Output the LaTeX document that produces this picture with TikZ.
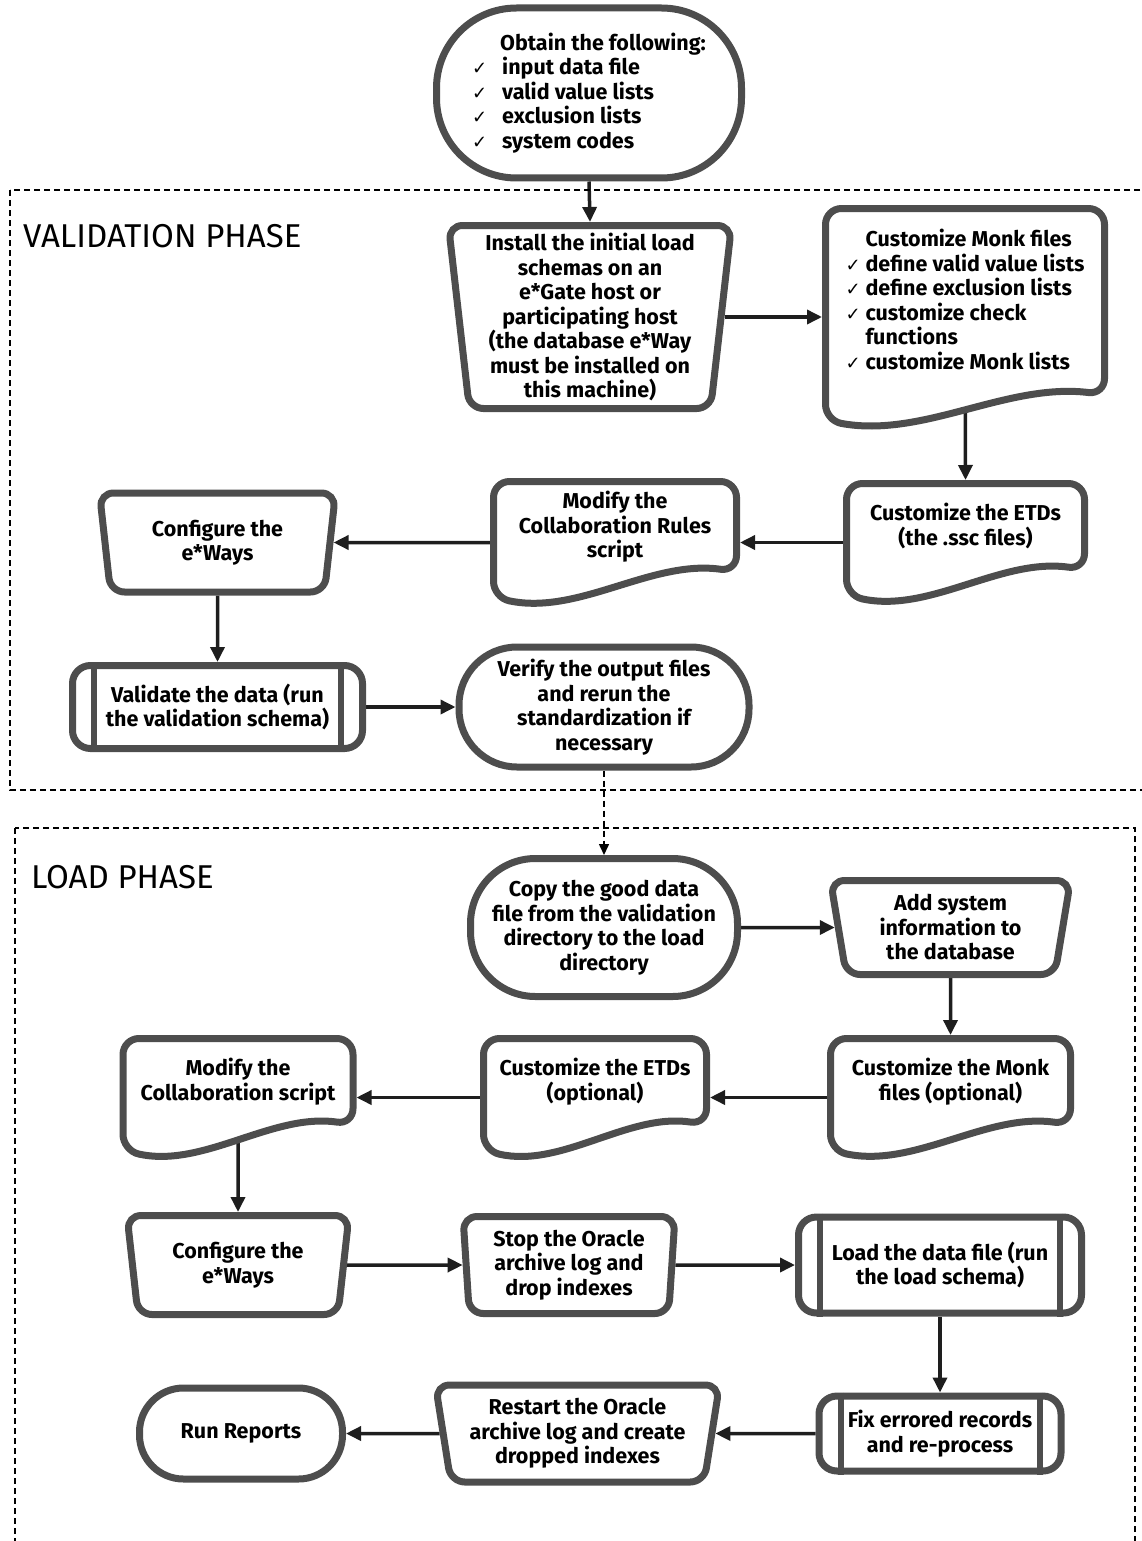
\documentclass[tikz,border=0pt]{standalone}
\usepackage{fontspec}
\setmainfont{Fira Sans}
\newfontfamily\checkfont{DejaVu Sans}
\usetikzlibrary{shapes.geometric,arrows.meta,backgrounds,calc}

\definecolor{shapegray}{HTML}{4D4D4D}
\definecolor{flowblack}{HTML}{1E1E1E}

% check mark in front of a list line
\newcommand{\chk}[1][22pt]{\makebox[#1][l]{\checkfont\mdseries\fontsize{18}{18}\selectfont ✓}}
% room for the wavy bottom of a document shape
\newcommand{\wavepad}{\rule[-36pt]{0pt}{0pt}}

\begin{document}
\begin{tikzpicture}[x=1pt,y=-1pt,
    every node/.style={font=\bfseries\fontsize{21.5}{24.5}\selectfont, align=center, inner sep=1pt},
    box/.style={draw=shapegray, fill=white, line width=7pt},
    term/.style={box, rectangle},
    manual/.style={box, trapezium, shape border rotate=180, trapezium stretches body, rounded corners=14pt},
    predef/.style={box, rectangle, rounded corners=18pt},
    doc/.style={rectangle, line width=7pt, outer sep=3.5pt},
    flow/.style={draw=flowblack, line width=3.5pt, -{Triangle[length=15pt,width=14pt]}},
    jump/.style={draw=black, line width=1.5pt, dash pattern=on 6pt off 4pt, -{Triangle[length=11pt,width=10pt]}},
    phasebox/.style={draw=black, line width=1.5pt, dash pattern=on 6pt off 4pt},
    phase/.style={font=\fontsize{33}{38}\selectfont, anchor=west}
  ]
  \useasboundingbox (0,0) rectangle (1142,1541);

  % phases
  \draw[phasebox] (10,190) rectangle (1160,790);
  \draw[phasebox] (15,828) rectangle (1135,1570);
  \node[phase] (valhead) at (22,236) {VALIDATION PHASE};
  \node[phase] (loadhead) at (30,877) {LOAD PHASE};

  % validation phase
  \node[term, rounded corners=80pt, minimum width=305pt, minimum height=170pt, align=left] (obtain) at (589,93)
    {\hspace*{28pt}Obtain the following:\\ \chk[30pt]input data file\\ \chk[30pt]valid value lists\\
     \chk[30pt]exclusion lists\\ \chk[30pt]system codes};
  \node[manual, trapezium angle=83, minimum width=283pt, minimum height=183pt] (install) at (590,317)
    {Install the initial load\\ schemas on an\\ e*Gate host or\\ participating host\\
     (the database e*Way\\ must be installed on\\ this machine)};
  \node[doc, minimum width=279pt, minimum height=218pt, align=left] (monk) at (965,317.5)
    {\hspace*{20pt}Customize Monk files\\ \chk[20pt]define valid value lists\\ \chk[20pt]define exclusion lists\\
     \chk[20pt]customize check\\ \hspace*{20pt}functions\\ \chk[20pt]customize Monk lists\wavepad};
  \node[doc, minimum width=238pt, minimum height=118pt] (etd) at (965.5,542.5)
    {Customize the ETDs\\ (the .ssc files)\wavepad};
  \node[doc, minimum width=243pt, minimum height=122pt] (rules) at (615,542.5)
    {Modify the\\ Collaboration Rules\\ script\wavepad};
  \node[manual, trapezium angle=77, minimum width=236pt, minimum height=99pt] (config) at (217.5,542.5)
    {Configure the\\ e*Ways};
  \node[predef, minimum width=290pt, minimum height=83pt] (valid) at (217.5,707)
    {Validate the data (run\\ the validation schema)};
  \node[term, rounded corners=58pt, minimum width=290pt, minimum height=120pt] (verify) at (604,707)
    {Verify the output files\\ and rerun the\\ standardization if\\ necessary};

  % load phase
  \node[term, rounded corners=65pt, minimum width=267pt, minimum height=138pt] (copy) at (604,927.5)
    {Copy the good data\\ file from the validation\\ directory to the load\\ directory};
  \node[manual, trapezium angle=77, minimum width=240pt, minimum height=94pt] (add) at (950.5,927.5)
    {Add system\\ information to\\ the database};
  \node[doc, minimum width=240pt, minimum height=118pt] (monkb) at (950.5,1097.5)
    {Customize the Monk\\ files (optional)\wavepad};
  \node[doc, minimum width=223pt, minimum height=118pt] (etdb) at (595,1097.5)
    {Customize the ETDs\\ (optional)\wavepad};
  \node[doc, minimum width=230pt, minimum height=118pt] (collab) at (238,1097.5)
    {Modify the\\ Collaboration script\wavepad};
  \node[manual, trapezium angle=77, minimum width=222pt, minimum height=99pt] (configb) at (238,1265)
    {Configure the\\ e*Ways};
  \node[manual, trapezium angle=85, minimum width=212pt, minimum height=97pt] (stop) at (569,1265)
    {Stop the Oracle\\ archive log and\\ drop indexes};
  \node[predef, minimum width=283pt, minimum height=96pt] (load) at (940,1265)
    {Load the data file (run\\ the load schema)};
  \node[predef, minimum width=242pt, minimum height=75pt] (fix) at (940,1433.5)
    {Fix errored records\\ and re-process};
  \node[manual, trapezium angle=78, minimum width=284pt, minimum height=97pt] (restart) at (577.5,1433.5)
    {Restart the Oracle\\ archive log and create\\ dropped indexes};
  \node[term, rounded corners=44pt, minimum width=203pt, minimum height=91pt] (reports) at (241,1433.5)
    {Run Reports};

  % side bars of the predefined steps
  \foreach \nm in {valid,load,fix}
    \draw[draw=shapegray, line width=6pt]
      ([xshift=25pt]\nm.north west) -- ([xshift=25pt]\nm.south west)
      ([xshift=-25pt]\nm.north east) -- ([xshift=-25pt]\nm.south east);

  \begin{scope}[on background layer]
    \draw[flow] (obtain.south) -- (install.north);
    \draw[flow] (install.east) -- (install.east -| monk.west);
    \draw[flow] (monk.center) -- (etd.north);
    \draw[flow] (etd.west) -- (rules.east);
    \draw[flow] (rules.west) -- (config.east);
    \draw[flow] (config.south) -- (valid.north);
    \draw[flow] (valid.east) -- (verify.west);
    \draw[jump] (verify.south) -- (copy.north);
    \draw[flow] (copy.east) -- (add.west);
    \draw[flow] (add.south) -- (monkb.north);
    \draw[flow] (monkb.west) -- (etdb.east);
    \draw[flow] (etdb.west) -- (collab.east);
    \draw[flow] (collab.center) -- (configb.north);
    \draw[flow] (configb.east) -- (stop.west);
    \draw[flow] (stop.east) -- (load.west);
    \draw[flow] (load.south) -- (fix.north);
    \draw[flow] (fix.west) -- (restart.east);
    \draw[flow] (restart.west) -- (reports.east);

    % document shapes with a wavy bottom
    \foreach \nm in {monk,etd,rules,monkb,etdb,collab}
      \draw[box, rounded corners=16pt]
        let \p1=([shift={(3.5pt,3.5pt)}]\nm.south west),
            \p2=([shift={(-3.5pt,-3.5pt)}]\nm.north east),
            \n1={\x2-\x1}
        in (\x1,{0.5*(\y1+\y2)}) -- (\x1,\y2) -- (\x2,\y2) -- (\x2,{\y1+32pt})
           .. controls ({\x2-0.35*\n1},{\y1+44pt}) and ({\x1+0.35*\n1},{\y1-12pt}) .. (\x1,{\y1+6pt}) -- cycle;
  \end{scope}
\end{tikzpicture}
\end{document}
